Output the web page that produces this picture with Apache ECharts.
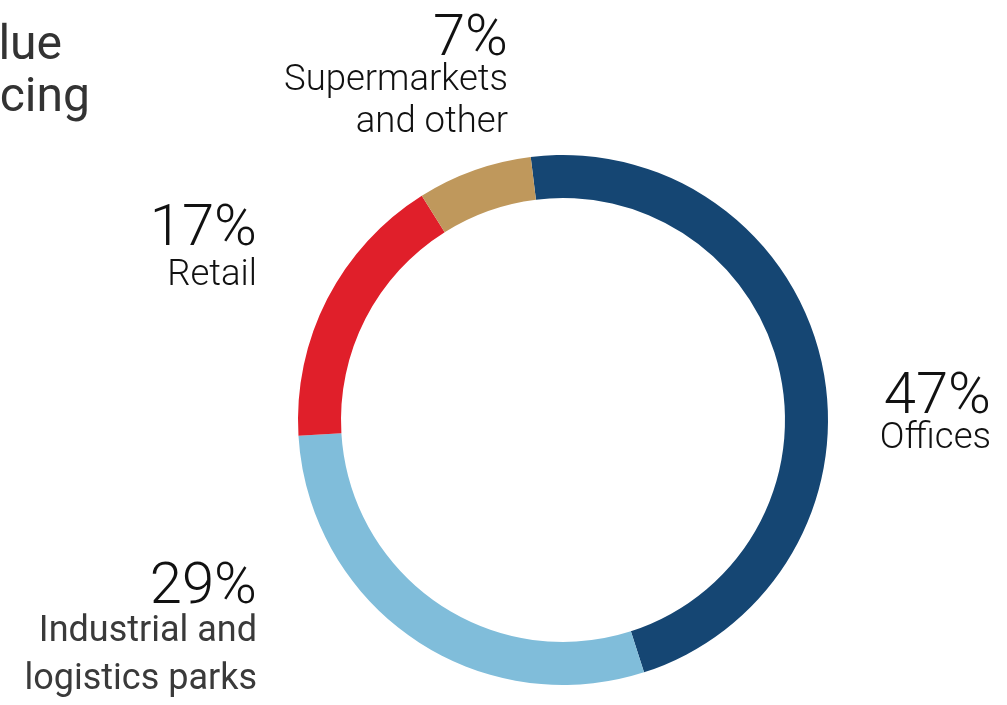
<!DOCTYPE html>
<html>
<head>
<meta charset="utf-8">
<script src="https://cdn.jsdelivr.net/npm/echarts@6/dist/echarts.min.js"></script>
<style>
  html, body { margin: 0; padding: 0; background: #ffffff; }
  #chart { width: 1007px; height: 705px; }
</style>
</head>
<body>
<div id="chart"></div>
<script>
// Portfolio split by sector (share of value, %)
const sectors = ['Offices', 'Industrial and\nlogistics parks', 'Retail', 'Supermarkets\nand other'];
const shares = [47, 29, 17, 7];
const sectorColors = ['#154673', '#80bdda', '#e01f2a', '#bf985c'];
const titleLines = ['Portfolio value', 'by sector financing'];

// label anchor (right edge, top of block) and name style for each sector
const labelAnchors = [
  { x: 991, y: 378, style: 'n' },
  { x: 257, y: 568, style: 'm' },
  { x: 257, y: 210, style: 'r' },
  { x: 508, y: 20, style: 'n' }
];

const chart = echarts.init(document.getElementById('chart'), null, { renderer: 'canvas' });

const pieData = sectors.map((name, i) => ({
  name: name,
  value: shares[i],
  itemStyle: { color: sectorColors[i] }
}));

chart.setOption({
  animation: false,
  graphic: [
    {
      type: 'text', right: 1007 - 62, top: 23,
      style: { text: titleLines[0], font: '400 48px Roboto', fill: '#333333', align: 'right' }
    },
    {
      type: 'text', right: 1007 - 90, top: 75,
      style: { text: titleLines[1], font: '400 48px Roboto', fill: '#333333', align: 'right' }
    }
  ],
  series: [{
    type: 'pie',
    center: [563, 420],
    radius: [222, 265],
    startAngle: 97,
    clockwise: true,
    silent: true,
    emphasis: { disabled: true },
    labelLine: { show: false },
    label: {
      show: true,
      position: 'outside',
      align: 'right',
      formatter: p => {
        const s = labelAnchors[p.dataIndex].style;
        return '{p|' + p.value + '%}\n{' + s + '|' + p.name.split('\n').join('}\n{' + s + '|') + '}';
      },
      rich: {
        p: { fontFamily: 'Roboto', fontWeight: 300, fontSize: 58, lineHeight: 40, color: '#111111', align: 'right' },
        n: { fontFamily: 'Roboto', fontWeight: 300, fontSize: 36.5, lineHeight: 42, color: '#111111', align: 'right' },
        r: { fontFamily: 'Roboto', fontWeight: 300, fontSize: 36.5, lineHeight: 52, color: '#111111', align: 'right' },
        m: { fontFamily: 'Roboto', fontWeight: 400, fontSize: 36, lineHeight: 48, color: '#3a3a3a', align: 'right' }
      }
    },
    labelLayout: params => ({
      x: labelAnchors[params.dataIndex].x,
      y: labelAnchors[params.dataIndex].y,
      align: 'right',
      verticalAlign: 'top'
    }),
    data: pieData
  }]
});
</script>
</body>
</html>
